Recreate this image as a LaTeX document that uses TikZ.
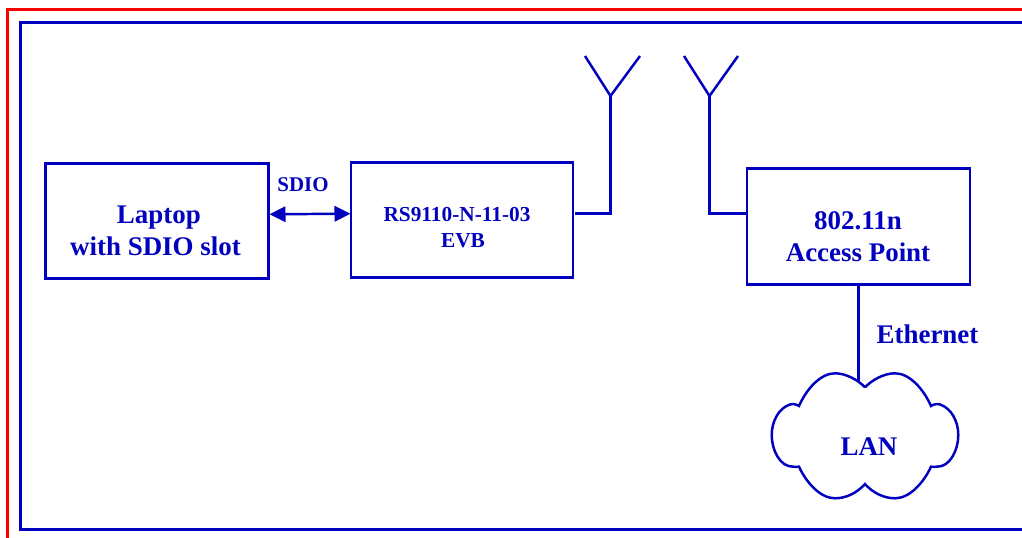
\documentclass[tikz,border=0pt]{standalone}
\usepackage{fontspec}
\setmainfont{Liberation Serif}
\usetikzlibrary{arrows.meta}
\definecolor{dblue}{RGB}{0,0,190}
\tikzset{
  px/.style={x=0.75pt,y=-0.75pt},
  wire/.style={draw=dblue,line width=1.85pt},
  boxn/.style={draw=dblue,line width=1.85pt,inner sep=0pt},
  lab/.style={text=dblue,inner sep=0pt,align=center},
  big/.style={font=\bfseries\fontsize{20.2}{24}\selectfont},
}
\begin{document}
\begin{tikzpicture}[px]
\useasboundingbox (0,0) rectangle (1022,538);
\coordinate (rtl) at (7.5,9.5);
\coordinate (rbl) at (7.5,538);
\coordinate (rtr) at (1022,9.5);
\draw[red,line width=2.25pt] (rbl) -- (rtl) -- (rtr);
\coordinate (btl) at (20.5,22.5);
\coordinate (bbl) at (20.5,529.5);
\coordinate (btr) at (1022,22.5);
\coordinate (bbr) at (1022,529.5);
\draw[wire] (btr) -- (btl) -- (bbl) -- (bbr);

\node[boxn,minimum width=223*0.75pt,minimum height=115*0.75pt] (laptop) at (157,221) {};
\node[lab,big] (laptopt) at (155.5,231) {\hspace{5pt}Laptop\\with SDIO slot};
\node[boxn,minimum width=222*0.75pt,minimum height=115*0.75pt] (evb) at (462,220) {};
\node[lab,font=\bfseries\fontsize{16}{19.5}\selectfont] (evbt) at (457,228) {RS9110-N-11-03\\\hspace{9pt}EVB};
\node[boxn,minimum width=223*0.75pt,minimum height=116*0.75pt] (ap) at (858.5,226.5) {};
\node[lab,big] (apt) at (858,237) {802.11n\\Access Point};

\node[lab,font=\bfseries\fontsize{15.7}{18}\selectfont] (sdio) at (303,184.5) {SDIO};
\node[lab,big] (eth) at (927.5,334) {Ethernet};
\node[lab,big] (lan) at (869,447) {LAN};

\coordinate (a1) at (269.5,214.3);
\coordinate (a2) at (350.5,213.7);
\draw[wire,{Triangle[length=12pt,width=11.5pt]}-{Triangle[length=12pt,width=11.5pt]}] (a1) -- (a2);

% antennas
\coordinate (t1) at (610.5,96);
\coordinate (t2) at (709.5,96);
\coordinate (l1) at (585,56);
\coordinate (r1) at (640,56);
\coordinate (l2) at (684,56);
\coordinate (r2) at (738,56);
\draw[wire,line join=miter] (l1) -- (t1) -- (r1);
\draw[wire,line join=miter] (l2) -- (t2) -- (r2);
\coordinate (e1) at (575,213.5);
\coordinate (e2) at (746,213.5);
\draw[wire] (e1) -- (610.5,213.5) -- (t1);
\draw[wire] (e2) -- (709.5,213.5) -- (t2);

% cloud
\coordinate (c1) at (865,387.3);
\coordinate (c2) at (931,406);
\coordinate (c3) at (931,466.7);
\coordinate (c4) at (865,484);
\coordinate (c5) at (799,466.7);
\coordinate (c6) at (799,406);
\draw[wire,line join=miter]
  (c1) .. controls (872,380) and (884,373.3) .. (895,373.3)
  .. controls (910,373.3) and (924,390) .. (c2)
  .. controls (933,404.5) and (937,403.5) .. (940,404.5)
  .. controls (951,408) and (958.3,421) .. (958.3,435)
  .. controls (958.3,450) and (950,467) .. (937,466.7)
  .. controls (935,467) and (933,466.7) .. (c3)
  .. controls (924,482) and (910,498.3) .. (895,498.3)
  .. controls (884,498.3) and (873,493) .. (c4)
  .. controls (857,493) and (846,498.3) .. (835,498.3)
  .. controls (820,498.3) and (806,482) .. (c5)
  .. controls (797,466.7) and (795,467) .. (793,466.7)
  .. controls (780,467) and (771.7,450) .. (771.7,435)
  .. controls (771.7,421) and (779,408) .. (790,404.5)
  .. controls (793,403.5) and (797,404.5) .. (c6)
  .. controls (806,390) and (820,373.3) .. (835,373.3)
  .. controls (846,373.3) and (858,380) .. (c1);
\coordinate (cn) at (858.5,381);
\draw[wire] (ap.south -| cn) -- (cn);
\end{tikzpicture}
\end{document}
